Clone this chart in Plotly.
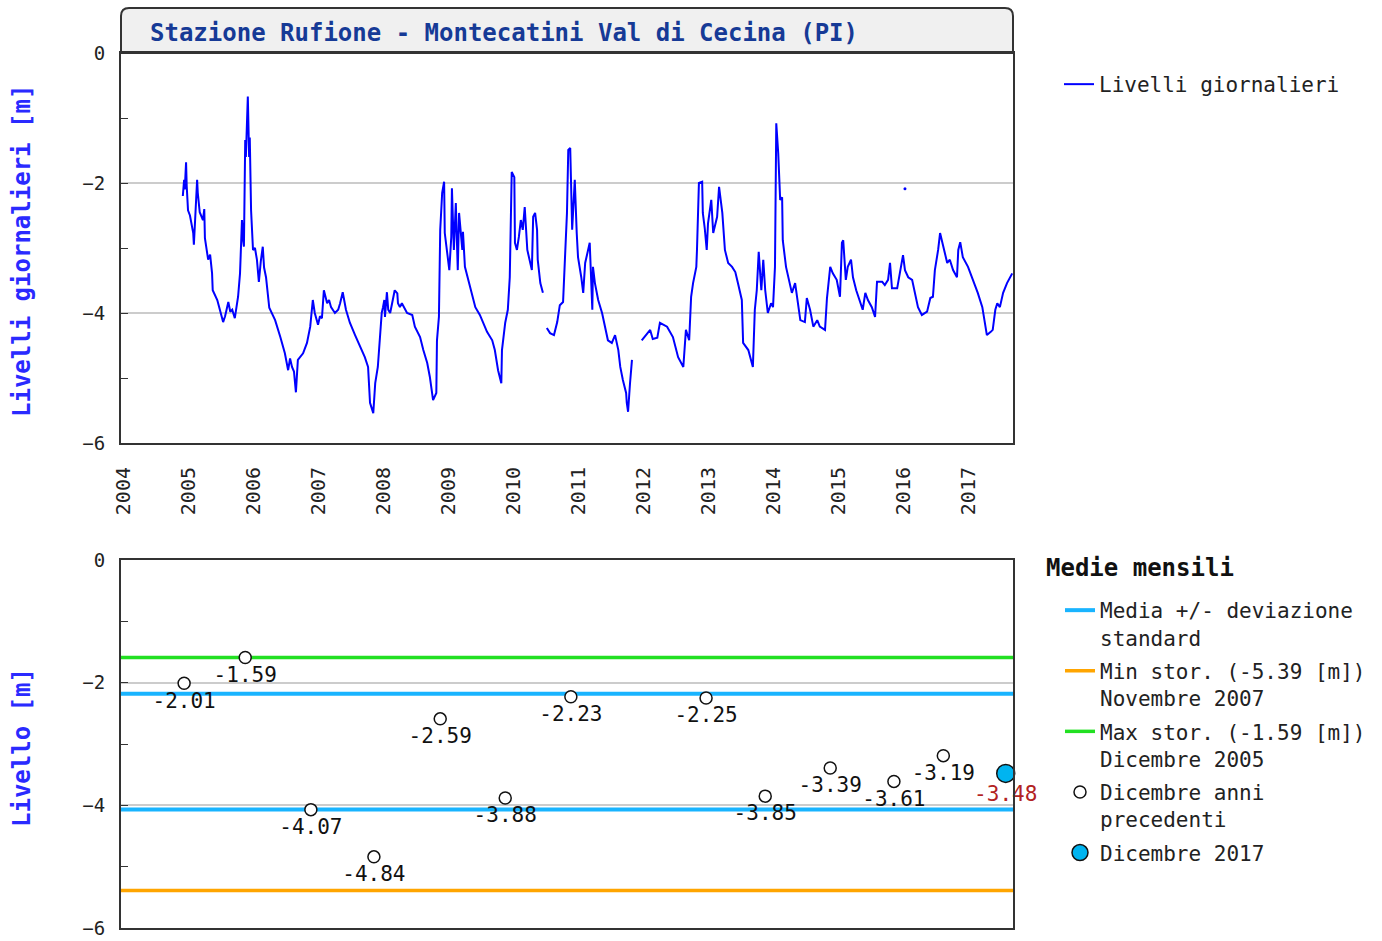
import numpy as np
import plotly.graph_objects as go

# ---------------- DATA ----------------
titolo = "Stazione Rufione - Montecatini Val di Cecina (PI)"
titolo_legenda_mensile = "Medie mensili"

# Livelli giornalieri [m] (posizione temporale in anni decimali, lettura dal grafico)
anni_giornalieri = [
    2004.92, 2004.94, 2004.95, 2004.97, 2004.98, 2005.00, 2005.03, 2005.08, 2005.09, 2005.11,
    2005.14, 2005.15, 2005.18, 2005.23, 2005.25, 2005.26, 2005.31, 2005.34, 2005.37, 2005.38,
    2005.45, 2005.49, 2005.54, 2005.57, 2005.62, 2005.65, 2005.68, 2005.72, 2005.77, 2005.80,
    2005.83, 2005.85, 2005.86, 2005.88, 2005.89, 2005.92, 2005.94, 2005.95, 2005.97, 2006.00,
    2006.03, 2006.06, 2006.09, 2006.12, 2006.15, 2006.17, 2006.20, 2006.25, 2006.29, 2006.34,
    2006.42, 2006.49, 2006.54, 2006.57, 2006.60, 2006.63, 2006.66, 2006.69, 2006.77, 2006.83,
    2006.88, 2006.92, 2006.95, 2007.00, 2007.03, 2007.06, 2007.09, 2007.14, 2007.17, 2007.20,
    2007.26, 2007.31, 2007.34, 2007.37, 2007.38, 2007.43, 2007.49, 2007.57, 2007.65, 2007.72,
    2007.77, 2007.80, 2007.85, 2007.88, 2007.92, 2007.95, 2007.98, 2008.00, 2008.02, 2008.03,
    2008.06, 2008.08, 2008.11, 2008.15, 2008.18, 2008.22, 2008.23, 2008.26, 2008.29, 2008.37,
    2008.45, 2008.49, 2008.57, 2008.62, 2008.68, 2008.72, 2008.77, 2008.82, 2008.83, 2008.86,
    2008.88, 2008.91, 2008.94, 2008.95, 2009.00, 2009.02, 2009.05, 2009.06, 2009.09, 2009.12,
    2009.15, 2009.17, 2009.22, 2009.23, 2009.26, 2009.31, 2009.37, 2009.42, 2009.49, 2009.54,
    2009.60, 2009.68, 2009.72, 2009.77, 2009.82, 2009.83, 2009.88, 2009.92, 2009.95, 2009.98,
    2010.02, 2010.03, 2010.06, 2010.09, 2010.12, 2010.15, 2010.18, 2010.22, 2010.26, 2010.29,
    2010.31, 2010.34, 2010.37, 2010.38, 2010.42, 2010.45, 2010.46, None,
    2010.52, 2010.57, 2010.63, 2010.68, 2010.72, 2010.77, 2010.80, 2010.83, 2010.85, 2010.88,
    2010.91, 2010.92, 2010.95, 2010.98, 2011.00, 2011.05, 2011.08, 2011.11, 2011.15, 2011.18,
    2011.22, 2011.23, 2011.26, 2011.31, 2011.37, 2011.42, 2011.46, 2011.52, 2011.57, 2011.62,
    2011.65, 2011.69, 2011.74, 2011.75, 2011.77, 2011.80, 2011.83, None,
    2011.98, 2012.11, 2012.15, 2012.22, 2012.26, 2012.31, 2012.37, 2012.46, 2012.54, 2012.62,
    2012.66, 2012.71, 2012.74, 2012.77, 2012.82, 2012.83, 2012.86, 2012.91, 2012.92, 2012.95,
    2012.98, 2013.00, 2013.05, 2013.08, 2013.14, 2013.17, 2013.22, 2013.26, 2013.31, 2013.37,
    2013.42, 2013.46, 2013.52, 2013.54, 2013.62, 2013.69, 2013.72, 2013.75, 2013.78, 2013.82,
    2013.85, 2013.88, 2013.92, 2013.97, 2014.00, 2014.03, 2014.05, 2014.08, 2014.11, 2014.14,
    2014.15, 2014.20, 2014.25, 2014.29, 2014.34, 2014.37, 2014.42, 2014.49, 2014.52, 2014.57,
    2014.62, 2014.68, 2014.72, 2014.80, 2014.83, 2014.88, 2014.92, 2014.98, 2015.03, 2015.06,
    2015.08, 2015.12, 2015.15, 2015.20, 2015.23, 2015.28, 2015.34, 2015.38, 2015.42, 2015.46,
    2015.52, 2015.57, 2015.60, 2015.68, 2015.72, 2015.77, 2015.80, 2015.83, 2015.91, 2015.95,
    2016.00, 2016.03, 2016.08, 2016.14, 2016.18, 2016.23, 2016.29, 2016.37, 2016.42, 2016.46,
    2016.49, 2016.54, 2016.57, 2016.62, 2016.68, 2016.72, 2016.77, 2016.83, 2016.85, 2016.88,
    2016.92, 2017.00, 2017.08, 2017.15, 2017.22, 2017.26, 2017.29, 2017.35, 2017.38, 2017.42,
    2017.45, 2017.49, 2017.54, 2017.60, 2017.65, 2017.68,
]
livelli_giornalieri = [
    -2.20, -1.95, -2.10, -1.68, -2.05, -2.42, -2.50, -2.77, -2.95, -2.60,
    -1.95, -2.15, -2.45, -2.57, -2.40, -2.85, -3.18, -3.10, -3.39, -3.65,
    -3.80, -3.95, -4.14, -4.05, -3.83, -3.98, -3.95, -4.08, -3.75, -3.39,
    -2.57, -2.90, -2.98, -1.34, -1.60, -0.67, -1.60, -1.30, -2.42, -3.03,
    -3.00, -3.18, -3.52, -3.20, -2.98, -3.30, -3.45, -3.92, -4.00, -4.11,
    -4.37, -4.62, -4.88, -4.70, -4.83, -4.90, -5.22, -4.72, -4.62, -4.46,
    -4.21, -3.80, -4.00, -4.18, -4.05, -4.08, -3.65, -3.85, -3.80, -3.91,
    -4.00, -3.95, -3.85, -3.75, -3.68, -3.95, -4.15, -4.34, -4.52, -4.68,
    -4.83, -5.38, -5.54, -5.08, -4.83, -4.46, -4.00, -3.91, -3.80, -4.06,
    -3.68, -3.95, -4.00, -3.80, -3.65, -3.70, -3.85, -3.91, -3.85, -4.00,
    -4.03, -4.21, -4.37, -4.57, -4.77, -4.98, -5.34, -5.23, -4.42, -4.06,
    -2.72, -2.15, -1.98, -2.77, -3.14, -3.34, -2.83, -2.08, -3.03, -2.31,
    -3.34, -2.46, -3.03, -2.75, -3.29, -3.49, -3.69, -3.91, -4.03, -4.15,
    -4.29, -4.42, -4.57, -4.88, -5.08, -4.57, -4.15, -3.95, -3.45, -1.83,
    -1.91, -2.92, -3.03, -2.83, -2.57, -2.72, -2.37, -3.03, -3.23, -3.34,
    -2.52, -2.46, -2.72, -3.18, -3.54, -3.65, -3.69, None,
    -4.23, -4.31, -4.34, -4.14, -3.88, -3.83, -3.14, -2.46, -1.49, -1.46,
    -2.72, -2.46, -1.95, -2.77, -3.14, -3.45, -3.69, -3.23, -3.03, -2.92,
    -3.95, -3.29, -3.54, -3.80, -4.00, -4.21, -4.42, -4.46, -4.34, -4.57,
    -4.83, -5.03, -5.23, -5.38, -5.52, -5.08, -4.72, None,
    -4.42, -4.26, -4.40, -4.38, -4.15, -4.18, -4.21, -4.37, -4.68, -4.83,
    -4.26, -4.42, -3.75, -3.54, -3.29, -3.03, -2.00, -1.98, -2.46, -2.70,
    -3.03, -2.62, -2.26, -2.77, -2.52, -2.06, -2.46, -3.03, -3.23, -3.29,
    -3.37, -3.54, -3.80, -4.46, -4.57, -4.83, -3.95, -3.65, -3.06, -3.65,
    -3.18, -3.65, -4.00, -3.85, -3.91, -3.29, -1.08, -1.54, -2.26, -2.22,
    -2.88, -3.29, -3.54, -3.69, -3.54, -3.75, -4.11, -4.14, -3.77, -3.95,
    -4.21, -4.11, -4.21, -4.26, -3.77, -3.29, -3.39, -3.49, -3.75, -2.92,
    -2.88, -3.49, -3.29, -3.18, -3.45, -3.65, -3.85, -3.95, -3.69, -3.80,
    -3.91, -4.06, -3.52, -3.52, -3.57, -3.49, -3.23, -3.62, -3.62, -3.37,
    -3.11, -3.34, -3.45, -3.49, -3.69, -3.91, -4.03, -3.98, -3.77, -3.75,
    -3.34, -3.03, -2.77, -2.98, -3.23, -3.18, -3.34, -3.45, -3.03, -2.91,
    -3.14, -3.29, -3.49, -3.69, -3.91, -4.15, -4.34, -4.29, -4.26, -3.95,
    -3.85, -3.91, -3.69, -3.54, -3.45, -3.39,
]
# isolated daily reading (2016)
anno_isolato = [2016.03]
livello_isolato = [-2.09]

# Medie mensili di dicembre
anni_dicembre = [2004.94, 2005.88, 2006.89, 2007.86, 2008.88, 2009.88, 2010.89,
                 2012.97, 2013.88, 2014.88, 2015.86, 2016.62]
medie_dicembre = [-2.01, -1.59, -4.07, -4.84, -2.59, -3.88, -2.23,
                  -2.25, -3.85, -3.39, -3.61, -3.19]
anno_corrente = [2017.58]
media_corrente = [-3.48]

min_storico = -5.39
max_storico = -1.59
media = float(np.mean(medie_dicembre))
dev_std = float(np.std(medie_dicembre))

x_range = [2003.969, 2017.692]

# ---------------- FIGURE ----------------
W, H = 1382, 941
FONT = "DejaVu Sans Mono"


def px_x(p):
    return p / W


def px_y(p):
    return 1 - p / H


fig = go.Figure()

fig.add_trace(go.Scatter(
    x=anni_giornalieri, y=livelli_giornalieri, mode="lines",
    line=dict(color="#0000ff", width=2), connectgaps=False,
    name="Livelli giornalieri", legend="legend", xaxis="x", yaxis="y",
))
fig.add_trace(go.Scatter(
    x=anno_isolato, y=livello_isolato, mode="markers",
    marker=dict(color="#0000ff", size=3), showlegend=False, xaxis="x", yaxis="y",
))

# Bottom panel
fig.add_trace(go.Scatter(
    x=[x_range[0], x_range[1], None, x_range[0], x_range[1]],
    y=[media + dev_std, media + dev_std, None, media - dev_std, media - dev_std],
    mode="lines", line=dict(color="#19b4ff", width=4),
    name="Media +/- deviazione<br>standard", legend="legend2", legendgroup="g1",
    xaxis="x2", yaxis="y2",
))
fig.add_trace(go.Scatter(
    x=x_range, y=[min_storico, min_storico], mode="lines",
    line=dict(color="#ffa500", width=3.5),
    name="Min stor. (%.2f [m])<br>Novembre 2007" % min_storico,
    legend="legend2", legendgroup="g2", xaxis="x2", yaxis="y2",
))
fig.add_trace(go.Scatter(
    x=x_range, y=[max_storico, max_storico], mode="lines",
    line=dict(color="#22e022", width=3.5),
    name="Max stor. (%.2f [m])<br>Dicembre 2005" % max_storico,
    legend="legend2", legendgroup="g3", xaxis="x2", yaxis="y2",
))
fig.add_trace(go.Scatter(
    x=anni_dicembre, y=medie_dicembre, mode="markers+text",
    text=["%.2f" % v for v in medie_dicembre], textposition="bottom center",
    textfont=dict(family=FONT, size=21, color="#111111"),
    marker=dict(symbol="circle", size=12, color="white", line=dict(color="#111111", width=1.5)),
    name="Dicembre anni<br>precedenti", legend="legend2", legendgroup="g4",
    xaxis="x2", yaxis="y2", cliponaxis=False,
))
fig.add_trace(go.Scatter(
    x=anno_corrente, y=media_corrente, mode="markers+text",
    text=["%.2f" % v for v in media_corrente], textposition="bottom center",
    textfont=dict(family=FONT, size=21, color="#b22222"),
    marker=dict(symbol="circle", size=18, color="#00b4f0", line=dict(color="#111111", width=1.5)),
    name="Dicembre 2017", legend="legend2", legendgroup="g5",
    xaxis="x2", yaxis="y2", cliponaxis=False,
))

xdom = [px_x(121), px_x(1013)]
axis_common = dict(showline=True, mirror=True, linecolor="#333333", linewidth=2,
                   zeroline=False, automargin=False, ticklabeloverflow="allow")
yaxis_common = dict(
    range=[-6, 0], dtick=2, tick0=0, ticks="inside", ticklen=7, tickcolor="#333333",
    showgrid=True, gridcolor="#cccccc", gridwidth=2,
    minor=dict(dtick=1, ticks="inside", ticklen=7, tickcolor="#333333", showgrid=False),
    tickfont=dict(family=FONT, size=19, color="#222222"), ticklabelstandoff=10,
    **axis_common,
)

fig.update_layout(
    width=W, height=H, autosize=False,
    margin=dict(l=0, r=0, t=0, b=0, pad=0, autoexpand=False),
    paper_bgcolor="white", plot_bgcolor="white",
    font=dict(family=FONT, size=19, color="#222222"),
    xaxis=dict(domain=xdom, range=x_range, dtick=1, tick0=2004, tickformat="d",
               tickangle=-90, ticks="", showgrid=False, ticklabelstandoff=14,
               tickfont=dict(family=FONT, size=20, color="#222222"), anchor="y",
               **axis_common),
    yaxis=dict(domain=[px_y(443), px_y(53)], anchor="x", **yaxis_common),
    xaxis2=dict(domain=xdom, range=x_range, showticklabels=False, ticks="",
                showgrid=False, anchor="y2", matches="x", **axis_common),
    yaxis2=dict(domain=[px_y(928), px_y(560)], anchor="x2", **yaxis_common),
    legend=dict(x=px_x(1059), y=px_y(64), xanchor="left", yanchor="top",
                font=dict(family=FONT, size=21, color="#222222"),
                bgcolor="rgba(0,0,0,0)", itemwidth=30),
    legend2=dict(x=px_x(1060), y=px_y(590), xanchor="left", yanchor="top",
                 font=dict(family=FONT, size=21, color="#222222"),
                 bgcolor="rgba(0,0,0,0)", itemwidth=30, tracegroupgap=3,
                 traceorder="grouped", valign="top"),
)

# Title box with rounded top corners
x0, x1 = px_x(121), px_x(1013)
yt, yb = px_y(8), px_y(53)
rx, ry = 8 / W, 8 / H
fig.add_shape(
    type="path", xref="paper", yref="paper",
    path=(f"M {x0},{yb} L {x0},{yt - ry} Q {x0},{yt} {x0 + rx},{yt} "
          f"L {x1 - rx},{yt} Q {x1},{yt} {x1},{yt - ry} L {x1},{yb} Z"),
    fillcolor="#f0f0f0", line=dict(color="#333333", width=2), layer="below",
)
fig.add_annotation(
    xref="paper", yref="paper", x=px_x(148), y=px_y(33), xanchor="left", yanchor="middle",
    text="<b>%s</b>" % titolo, showarrow=False,
    font=dict(family=FONT, size=24, color="#163a96"),
)
fig.add_annotation(
    xref="paper", yref="paper", x=px_x(1044), y=px_y(568), xanchor="left", yanchor="middle",
    text="<b>%s</b>" % titolo_legenda_mensile, showarrow=False,
    font=dict(family=FONT, size=24, color="#111111"),
)
fig.add_annotation(
    xref="paper", yref="paper", x=px_x(22), y=px_y(251), xanchor="center", yanchor="middle",
    text="<b>Livelli giornalieri [m]</b>", textangle=-90, showarrow=False,
    font=dict(family=FONT, size=24, color="#2a2aff"),
)
fig.add_annotation(
    xref="paper", yref="paper", x=px_x(22), y=px_y(748), xanchor="center", yanchor="middle",
    text="<b>Livello [m]</b>", textangle=-90, showarrow=False,
    font=dict(family=FONT, size=24, color="#2a2aff"),
)

fig.write_html("out.html", config={"displayModeBar": False},
               post_script="document.body.style.margin='0px';")
